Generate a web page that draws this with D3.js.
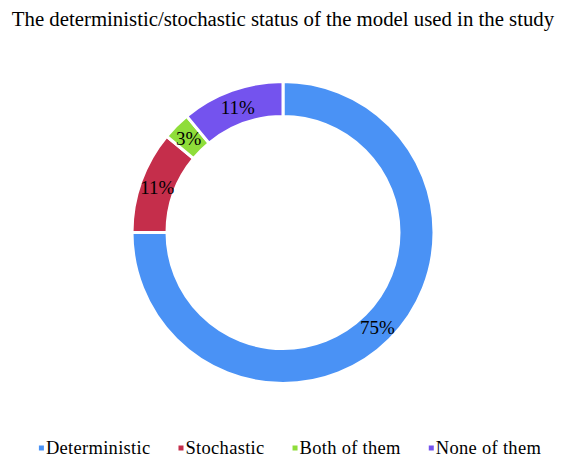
<!DOCTYPE html>
<html>
<head>
<meta charset="utf-8">
<script src="https://cdn.jsdelivr.net/npm/d3@7"></script>
<style>
  html, body { margin: 0; padding: 0; background: #fff; }
  svg { display: block; }
</style>
</head>
<body>
<div id="chart"></div>
<script>
// Donut chart: deterministic/stochastic status of the model
const categories = ['Deterministic', 'Stochastic', 'Both of them', 'None of them'];
const shares = [75, 11, 3, 11];
const colors = ['#4a92f5', '#c52e4b', '#8fdd3a', '#7453ee'];

(function() {
	'use strict';

	const width = 566;
	const height = 469;
	const cx = 283;
	const cy = 232.5;
	const outerR = 151;
	const innerR = 116;
	const serif = 'Liberation Serif, Times New Roman, serif';

	const svg = d3.select('#chart').append('svg')
		.attr('width', width)
		.attr('height', height);

	// Title
	svg.append('text')
		.attr('x', width / 2)
		.attr('y', 26)
		.attr('text-anchor', 'middle')
		.attr('font-family', serif)
		.attr('font-size', 20.8)
		.attr('fill', '#000')
		.text('The deterministic/stochastic status of the model used in the study');

	const data = categories.map((c, i) => ({ name: c, value: shares[i], color: colors[i] }));

	const pie = d3.pie()
		.value(d => d.value)
		.sort(null);

	const arc = d3.arc()
		.innerRadius(innerR)
		.outerRadius(outerR);

	const labelArc = d3.arc()
		.innerRadius((innerR + outerR) / 2)
		.outerRadius((innerR + outerR) / 2);

	const g = svg.append('g')
		.attr('transform', `translate(${cx}, ${cy})`);

	const arcs = pie(data);

	g.selectAll('path.slice')
		.data(arcs)
		.enter()
		.append('path')
		.attr('class', 'slice')
		.attr('d', arc)
		.attr('fill', d => d.data.color)
		.attr('stroke', '#fff')
		.attr('stroke-width', 3);

	g.selectAll('text.pct')
		.data(arcs)
		.enter()
		.append('text')
		.attr('class', 'pct')
		.attr('transform', d => `translate(${labelArc.centroid(d)})`)
		.attr('text-anchor', 'middle')
		.attr('dy', '0.35em')
		.attr('font-family', serif)
		.attr('font-size', 19)
		.attr('fill', '#000')
		.text(d => d.data.value + '%');

	// Legend
	const legend = svg.append('g')
		.attr('transform', 'translate(0, 454)');

	const items = legend.selectAll('.legend-item')
		.data(data)
		.enter()
		.append('g')
		.attr('class', 'legend-item');

	items.append('rect')
		.attr('y', -8.5)
		.attr('width', 5)
		.attr('height', 5)
		.attr('fill', d => d.color);

	items.append('text')
		.attr('x', 7)
		.attr('font-family', serif)
		.attr('font-size', 18.5)
		.attr('letter-spacing', 0.3)
		.attr('fill', '#000')
		.text(d => d.name);

	// lay out items in a centred row
	const gap = 28;
	const widths = [];
	items.each(function() {
		widths.push(7 + d3.select(this).select('text').node().getComputedTextLength());
	});
	const total = d3.sum(widths) + gap * (widths.length - 1);
	let x = 290 - total / 2;
	items.attr('transform', (d, i) => {
		const t = `translate(${x}, 0)`;
		x += widths[i] + gap;
		return t;
	});
})();
</script>
</body>
</html>
